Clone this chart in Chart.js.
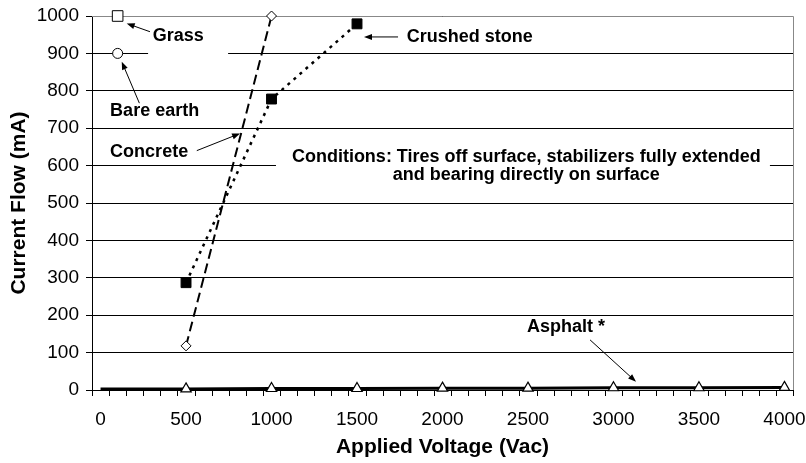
<!DOCTYPE html>
<html>
<head>
<meta charset="utf-8">
<script src="https://cdn.jsdelivr.net/npm/chart.js@4"></script>
<style>
  html, body { margin: 0; padding: 0; background: #fff; }
</style>
</head>
<body>
<canvas id="chart" width="806" height="463"></canvas>
<script>
const FONT = 'Arial, "Liberation Sans", sans-serif';

// tick labels on the x axis
const xLabels = [0, 500, 1000, 1500, 2000, 2500, 3000, 3500, 4000];

// series (voltage in Vac, current in mA)
const grassX = [100];
const grassY = [1000];
const bareX = [100];
const bareY = [900];
const concreteX = [500, 1000];
const concreteY = [118, 1000];
const crushedX = [500, 1000, 1500];
const crushedY = [287, 778, 979];
const asphaltX = [0, 500, 1000, 1500, 2000, 2500, 3000, 3500, 4000];
const asphaltY = [3, 3, 4, 4, 5, 5, 6, 6, 7];

const pts = (xs, ys) => xs.map((x, i) => ({ x: x, y: ys[i] }));

// callouts, placed in data units
const labels = [
  { text: "Grass", x: 305, y: 946, align: "left" },
  { text: "Bare earth", x: 56, y: 746, align: "left" },
  { text: "Concrete", x: 56, y: 636, align: "left" },
  { text: "Crushed stone", x: 1791, y: 944, align: "left" },
  { text: "Conditions: Tires off surface, stabilizers fully extended", x: 2490, y: 622, align: "center" },
  { text: "and bearing directly on surface", x: 2490, y: 575, align: "center" },
  { text: "Asphalt *", x: 2494, y: 168, align: "left" },
];
const arrows = [
  { from: [289, 958], to: [153, 980] },
  { from: [227, 767], to: [124, 878] },
  { from: [563, 640], to: [816, 686] },
  { from: [1740, 944], to: [1541, 944] },
  { from: [2863, 134], to: [3132, 22] },
];
// white text boxes hiding grid lines
const masks = [
  { x1: 278, x2: 746, y1: 976, y2: 888 },
  { x1: 1026, x2: 3915, y1: 650, y2: 548 },
];

const annot = {
  id: "annot",
  beforeDatasetsDraw(chart) {
    const { ctx, chartArea: a, scales: { x, y } } = chart;
    ctx.save();
    ctx.fillStyle = "#fff";
    masks.forEach((m) => {
      const px1 = x.getPixelForValue(m.x1), px2 = x.getPixelForValue(m.x2);
      const py1 = y.getPixelForValue(m.y1), py2 = y.getPixelForValue(m.y2);
      ctx.fillRect(px1, py1, px2 - px1, py2 - py1);
    });
    // plot area border (top / right)
    ctx.strokeStyle = "#888";
    ctx.lineWidth = 1;
    ctx.beginPath();
    ctx.moveTo(a.left, Math.round(a.top) + 0.5);
    ctx.lineTo(Math.round(a.right) + 0.5, Math.round(a.top) + 0.5);
    ctx.lineTo(Math.round(a.right) + 0.5, a.bottom);
    ctx.stroke();
    // x minor tick marks between categories
    ctx.strokeStyle = "#000";
    ctx.beginPath();
    for (let v = -50; v <= 4050; v += 100) {
      const px = Math.round(x.getPixelForValue(v)) + 0.5;
      ctx.moveTo(px, a.bottom);
      ctx.lineTo(px, a.bottom + 6);
    }
    ctx.stroke();
    ctx.restore();
  },
  afterDatasetsDraw(chart) {
    const { ctx, scales: { x, y } } = chart;
    ctx.save();
    ctx.fillStyle = "#000";
    ctx.strokeStyle = "#000";
    ctx.lineWidth = 1;
    ctx.font = "bold 18px " + FONT;
    ctx.textBaseline = "middle";
    labels.forEach((l) => {
      ctx.textAlign = l.align;
      ctx.fillText(l.text, x.getPixelForValue(l.x), y.getPixelForValue(l.y));
    });
    arrows.forEach((ar) => {
      const x1 = x.getPixelForValue(ar.from[0]), y1 = y.getPixelForValue(ar.from[1]);
      const x2 = x.getPixelForValue(ar.to[0]), y2 = y.getPixelForValue(ar.to[1]);
      const ang = Math.atan2(y2 - y1, x2 - x1);
      ctx.beginPath();
      ctx.moveTo(x1, y1);
      ctx.lineTo(x2 - 6 * Math.cos(ang), y2 - 6 * Math.sin(ang));
      ctx.stroke();
      ctx.beginPath();
      ctx.moveTo(x2, y2);
      ctx.lineTo(x2 - 8 * Math.cos(ang) + 3 * Math.sin(ang), y2 - 8 * Math.sin(ang) - 3 * Math.cos(ang));
      ctx.lineTo(x2 - 8 * Math.cos(ang) - 3 * Math.sin(ang), y2 - 8 * Math.sin(ang) + 3 * Math.cos(ang));
      ctx.closePath();
      ctx.fill();
    });
    ctx.restore();
  },
};

new Chart(document.getElementById("chart"), {
  type: "scatter",
  data: {
    datasets: [
      {
        label: "Grass",
        data: pts(grassX, grassY),
        pointStyle: "rect",
        pointRadius: 7.5,
        backgroundColor: "#fff",
        borderColor: "#000",
        borderWidth: 1,
        clip: false,
      },
      {
        label: "Bare earth",
        data: pts(bareX, bareY),
        pointStyle: "circle",
        pointRadius: 5,
        backgroundColor: "#fff",
        borderColor: "#000",
        borderWidth: 1,
        clip: false,
      },
      {
        label: "Concrete",
        data: pts(concreteX, concreteY),
        showLine: true,
        borderColor: "#000",
        borderWidth: 2,
        borderDash: [10, 5],
        pointStyle: "rectRot",
        pointRadius: 5,
        pointBackgroundColor: "#fff",
        pointBorderColor: "#000",
        pointBorderWidth: 1,
        clip: false,
      },
      {
        label: "Crushed stone",
        data: pts(crushedX, crushedY),
        showLine: true,
        borderColor: "#000",
        borderWidth: 2.5,
        borderDash: [3, 5],
        pointStyle: "rect",
        pointRadius: 7,
        pointBackgroundColor: "#000",
        pointBorderColor: "#000",
        pointBorderWidth: 1,
        clip: false,
      },
      {
        label: "Asphalt *",
        data: pts(asphaltX, asphaltY),
        showLine: true,
        borderColor: "#000",
        borderWidth: 3,
        pointStyle: "triangle",
        pointRadius: asphaltX.map((v) => (v === 0 ? 0 : 6)),
        pointBackgroundColor: "#fff",
        pointBorderColor: "#000",
        pointBorderWidth: 1.2,
        clip: false,
      },
    ],
  },
  options: {
    responsive: false,
    devicePixelRatio: 1,
    animation: false,
    layout: { padding: { left: 0, top: 16, right: 13, bottom: 0 } },
    plugins: { legend: { display: false }, tooltip: { enabled: false } },
    scales: {
      x: {
        type: "linear",
        min: -50,
        max: 4050,
        afterBuildTicks: (s) => { s.ticks = xLabels.map((v) => ({ value: v })); },
        afterFit: (s) => { s.height = 73; s.paddingLeft = 0; s.paddingRight = 0; },
        grid: { display: false, drawTicks: false },
        border: { display: true, color: "#000", width: 1 },
        ticks: {
          color: "#000",
          font: { family: FONT, size: 19 },
          padding: 18,
          maxRotation: 0,
          autoSkip: false,
          callback: (v) => String(v),
        },
        title: {
          display: true,
          text: "Applied Voltage (Vac)",
          color: "#000",
          font: { family: FONT, size: 21, weight: "bold" },
          padding: { top: 0, bottom: 3 },
        },
      },
      y: {
        min: 0,
        max: 1000,
        afterFit: (s) => { s.width = 92; s.paddingTop = 0; s.paddingBottom = 0; },
        grid: { color: "#000", lineWidth: 1, drawTicks: true, tickLength: 6 },
        border: { display: true, color: "#000", width: 1 },
        ticks: {
          stepSize: 100,
          color: "#000",
          font: { family: FONT, size: 19 },
          padding: 7,
          callback: (v) => String(v),
        },
        title: {
          display: true,
          text: "Current Flow (mA)",
          color: "#000",
          font: { family: FONT, size: 21, weight: "bold" },
          padding: { top: 7, bottom: 0 },
        },
      },
    },
  },
  plugins: [annot],
});
</script>
</body>
</html>
